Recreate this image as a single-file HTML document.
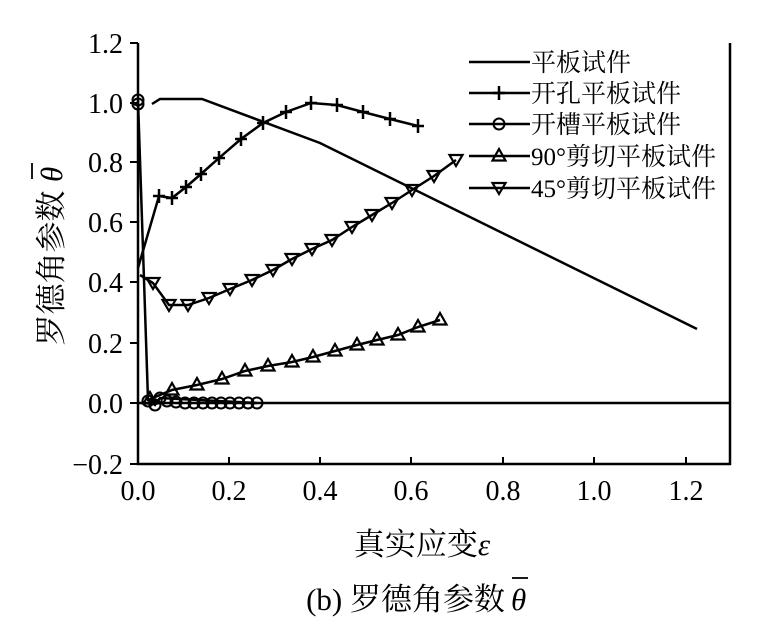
<!DOCTYPE html>
<html><head><meta charset="utf-8"><style>
body{margin:0;background:#fff}
svg{display:block;font-family:"Liberation Serif","Noto Serif CJK SC",serif}
</style></head><body>
<svg width="779" height="627" viewBox="0 0 779 627" xmlns="http://www.w3.org/2000/svg">
<defs>
<g id="p"><path d="M-6 0H6M0 -7V7" stroke="#000" stroke-width="2.5"/></g>
<g id="c"><circle r="5.5" fill="none" stroke="#000" stroke-width="2"/></g>
<g id="u"><path d="M0 -7L6.5 4.5H-6.5Z" fill="none" stroke="#000" stroke-width="2.2"/></g>
<g id="d"><path d="M0 6L6.5 -5H-6.5Z" fill="none" stroke="#000" stroke-width="2.2"/></g>
</defs>
<g fill="none" stroke="#000" stroke-width="2.5">
<path d="M138 43V464H730V43"/>
<path d="M138 403H730"/>
<g stroke-width="2">
<path d="M138 43h-8M138 103h-8M138 162h-8M138 222h-8M138 282h-8M138 343h-8M138 403h-8M138 464h-8"/>
<path d="M229 464v-7M320 464v-7M411 464v-7M503 464v-7M594 464v-7M686 464v-7"/>
</g>
<path d="M152 104L160 99H202L320 143L697 329"/>
<path d="M138 268L159 196L172 198L186 187L201 174L219 158L241 139L263 123L286 112L311 103L337 105L363 112L390 119L418 126"/>
<path d="M138 100L148 400L155 405L160 398L257 403"/>
<path d="M148 400L172 390L197 385L222 379L245 371L268 366L292 362L313 357L335 351L357 345L377 340L398 335L418 327L440 320"/>
<path d="M140 275L153 283L169 305L188 305L209 298L230 289L252 280L273 270L292 259L312 249L332 240L352 227L372 215L392 203L412 190L434 176L456 160"/>
</g>
<g>
<use href="#p" x="159" y="196"/><use href="#p" x="172" y="198"/><use href="#p" x="186" y="187"/><use href="#p" x="201" y="174"/><use href="#p" x="219" y="158"/><use href="#p" x="241" y="139"/><use href="#p" x="263" y="123"/><use href="#p" x="286" y="112"/><use href="#p" x="311" y="103"/><use href="#p" x="337" y="105"/><use href="#p" x="363" y="112"/><use href="#p" x="390" y="119"/><use href="#p" x="418" y="126"/>
<use href="#c" x="138" y="100"/><use href="#c" x="138" y="104"/><use href="#c" x="148" y="401"/><use href="#c" x="155" y="405"/><use href="#c" x="160" y="398"/><use href="#c" x="167" y="401"/><use href="#c" x="176" y="402"/><use href="#c" x="185" y="403"/><use href="#c" x="194" y="403"/><use href="#c" x="203" y="403"/><use href="#c" x="212" y="403"/><use href="#c" x="221" y="403"/><use href="#c" x="230" y="403"/><use href="#c" x="239" y="403"/><use href="#c" x="248" y="403"/><use href="#c" x="257" y="403"/>
<use href="#u" x="150" y="399"/><use href="#u" x="172" y="390"/><use href="#u" x="197" y="385"/><use href="#u" x="222" y="379"/><use href="#u" x="245" y="371"/><use href="#u" x="268" y="366"/><use href="#u" x="292" y="362"/><use href="#u" x="313" y="357"/><use href="#u" x="335" y="351"/><use href="#u" x="357" y="345"/><use href="#u" x="377" y="340"/><use href="#u" x="398" y="335"/><use href="#u" x="418" y="327"/><use href="#u" x="440" y="320"/>
<use href="#d" x="153" y="283"/><use href="#d" x="169" y="305"/><use href="#d" x="188" y="305"/><use href="#d" x="209" y="298"/><use href="#d" x="230" y="289"/><use href="#d" x="252" y="280"/><use href="#d" x="273" y="270"/><use href="#d" x="292" y="259"/><use href="#d" x="312" y="249"/><use href="#d" x="332" y="240"/><use href="#d" x="352" y="227"/><use href="#d" x="372" y="215"/><use href="#d" x="392" y="203"/><use href="#d" x="412" y="190"/><use href="#d" x="434" y="176"/><use href="#d" x="456" y="160"/>
</g>
<g font-size="28" text-anchor="end">
<text x="123" y="53">1.2</text><text x="123" y="113">1.0</text><text x="123" y="172">0.8</text><text x="123" y="232">0.6</text><text x="123" y="292">0.4</text><text x="123" y="353">0.2</text><text x="123" y="413">0.0</text><text x="123" y="474">−0.2</text>
</g>
<g font-size="28" text-anchor="middle">
<text x="138" y="500">0.0</text><text x="229" y="500">0.2</text><text x="320" y="500">0.4</text><text x="411" y="500">0.6</text><text x="503" y="500">0.8</text><text x="594" y="500">1.0</text><text x="686" y="500">1.2</text>
</g>
<text x="422" y="555" font-size="31" text-anchor="middle">真实应变<tspan font-style="italic">ε</tspan></text>
<text x="505" y="610" font-size="31" text-anchor="end">(b)  罗德角参数</text>
<text x="511" y="610" font-size="31" font-style="italic">θ</text>
<path d="M512 578h16" stroke="#000" stroke-width="1.8"/>
<text transform="translate(62 268) rotate(-90)" font-size="31" text-anchor="middle">罗德角参数</text>
<text transform="translate(62 182) rotate(-90)" font-size="31" font-style="italic">θ</text>
<path d="M32 163v16" stroke="#000" stroke-width="1.8"/>
<g stroke="#000" stroke-width="2.5">
<path d="M469 62H530M469 93H530M469 124H530M469 156H530M469 188H530"/>
</g>
<use href="#p" x="499" y="93"/><use href="#c" x="499" y="124"/><use href="#u" x="499" y="156"/><use href="#d" x="499" y="188"/>
<g font-size="25">
<text x="531" y="71">平板试件</text>
<text x="531" y="102">开孔平板试件</text>
<text x="531" y="133">开槽平板试件</text>
<text x="531" y="165">90°剪切平板试件</text>
<text x="531" y="197">45°剪切平板试件</text>
</g>
</svg>
</body></html>
